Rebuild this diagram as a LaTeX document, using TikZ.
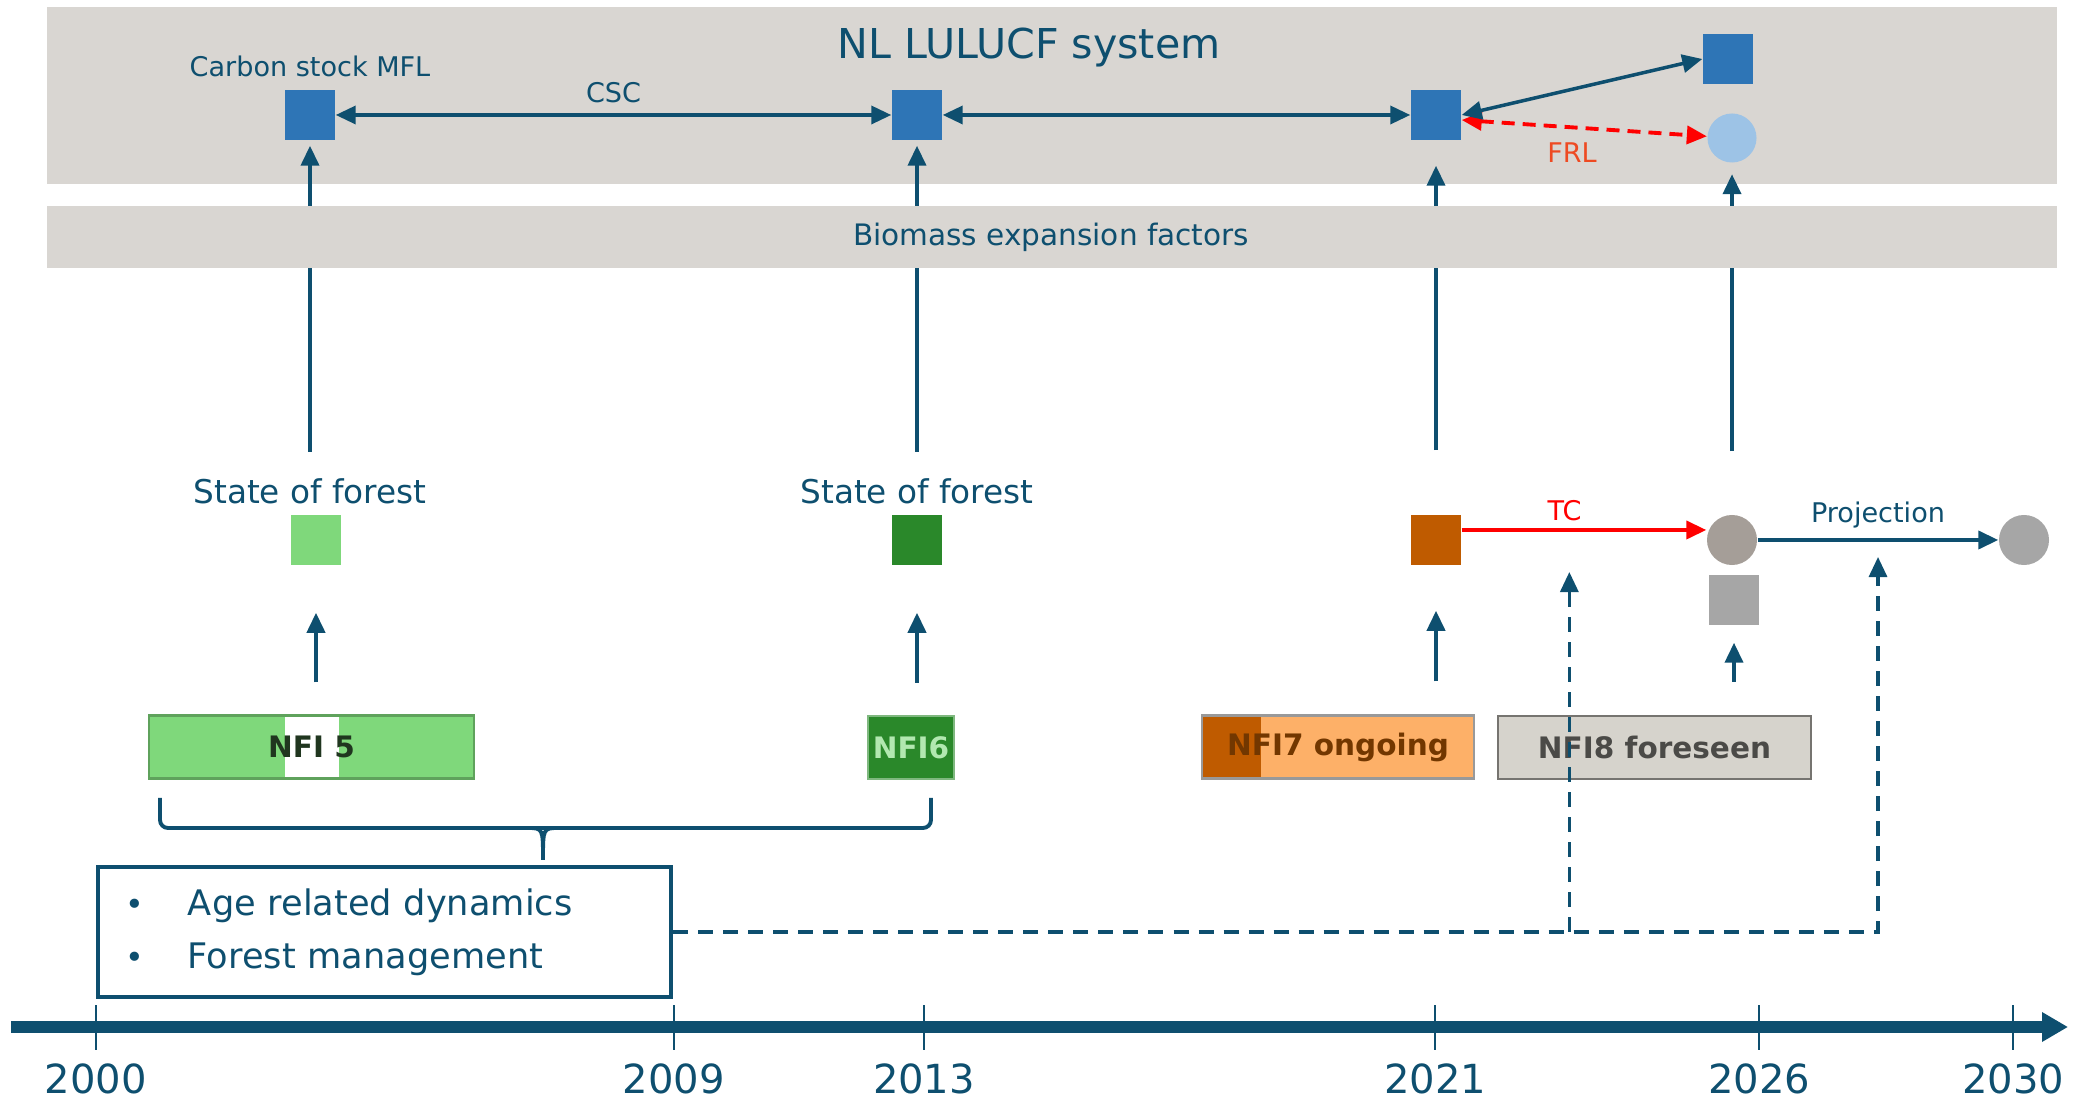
\documentclass[tikz,border=0pt]{standalone}
\usepackage{fontspec}
\setmainfont{DejaVu Sans}
\usetikzlibrary{arrows.meta,positioning,calc}
\definecolor{tl}{HTML}{0E4F6F}
\definecolor{bandgray}{HTML}{D9D6D2}
\definecolor{sqb}{HTML}{2E75B6}
\definecolor{lcb}{HTML}{9DC3E6}
\definecolor{lgr}{HTML}{7FD87B}
\definecolor{dgr}{HTML}{2A882A}
\definecolor{lor}{HTML}{FDB068}
\definecolor{dor}{HTML}{BF5B00}
\definecolor{wgr}{HTML}{A59E98}
\definecolor{mgr}{HTML}{A6A6A6}
\definecolor{nfg}{HTML}{D6D3CC}
\definecolor{rd}{HTML}{FF0000}
\definecolor{frlc}{HTML}{EE4A22}
\tikzset{
  >={Triangle[length=2mm,width=1.8mm]},
  every node/.style={text=tl},
  lbl/.style={inner sep=0pt, font=\fontsize{7.7}{9}\selectfont},
  sof/.style={inner sep=0pt, font=\fontsize{9.3}{11}\selectfont},
  csq/.style={rectangle, minimum size=5mm, inner sep=0pt, fill=sqb},
  stsq/.style={rectangle, minimum size=5mm, inner sep=0pt},
  blob/.style={circle, minimum size=4.9mm, inner sep=0pt},
  nfi/.style={rectangle, minimum height=6.3mm, inner sep=0pt, line width=0.6pt, font=\bfseries\fontsize{8.4}{10}\selectfont},
  inset/.style n args={3}{path picture={\fill[#1] ([xshift=#2]path picture bounding box.south west) rectangle ([xshift=#3]path picture bounding box.north west);}},
  flow/.style={->, draw=tl, line width=1.1pt},
  bflow/.style={<->, draw=tl, line width=1.0pt},
  rflow/.style={<->, draw=rd, line width=1.1pt, dash pattern=on 1.3mm off 0.8mm},
  tcflow/.style={->, draw=rd, line width=1.1pt},
  dflow/.style={->, draw=tl, line width=0.9pt, dash pattern=on 1.5mm off 1mm},
  brace/.style={draw=tl, line width=1.1pt},
  agebox/.style={draw=tl, line width=1.1pt, minimum width=5.73cm, minimum height=1.30cm, text width=5.17cm, inner xsep=0.28cm, align=left, font=\fontsize{10}{15.1}\selectfont},
  timeline/.style={-{Triangle[length=2.6mm,width=2.8mm]}, draw=tl, line width=3.4pt},
  yeartick/.style={draw=tl, line width=0.8pt},
  yearlbl/.style={inner sep=0pt, font=\fontsize{11.4}{13}\selectfont},
}

\begin{document}
\begin{tikzpicture}[x=0.01cm, y=-0.01cm]
\useasboundingbox (0,0) rectangle (2085,1101);

% ───────────── reporting system ─────────────
\fill[bandgray] (47,7) rectangle (2057,184);
\node[inner sep=0pt, font=\fontsize{11.7}{14}\selectfont] (title) at (1029,48) {NL LULUCF system};
\node[csq] (c00) at (310,115) {};
\node[csq] (c13) at (917,115) {};
\node[csq] (c21) at (1436,115) {};
\node[csq] (c26) at (1728,59) {};
\node[blob, fill=lcb] (frl26) at (1732,138) {};
\node[lbl, above=0.12cm of c00] (cslbl) {Carbon stock MFL};

\draw[bflow] (c00) -- node[lbl, above=0.1cm] (csc) {CSC} (c13);
\draw[bflow] (c13) -- (c21);
\draw[rflow] ([yshift=-0.05cm]c21.east) -- node[lbl, pos=0.45, below=0.13cm, text=frlc] (frl) {FRL} (frl26);
\draw[bflow] (c21.east) -- (c26.west);

% ───────────── state of forest ─────────────
\node[sof] (sof00) at (310,491) {State of forest};
\node[sof] (sof13) at (917,491) {State of forest};
\node[stsq, fill=lgr] (st00) at (316,540) {};
\node[stsq, fill=dgr] (st13) at (917,540) {};
\node[stsq, fill=dor] (or21) at (1436,540) {};
\node[blob, minimum size=5mm, fill=wgr] (gc26) at (1732,540) {};
\node[stsq, fill=mgr] (gs26) at (1734,600) {};
\node[blob, minimum size=5mm, fill=mgr] (gc30) at (2024,540) {};

\draw[tcflow] ([yshift=0.1cm]or21.east) -- node[lbl, pos=0.42, above=0.07cm, text=rd] (tc) {TC} ([yshift=0.1cm]gc26.west);
\draw[flow] (gc26) -- node[lbl, above=0.1cm] (proj) {Projection} (gc30);

% states feed the carbon stocks
\draw[flow, shorten <=0.26cm, shorten >=0.05cm] (sof00) -- (c00);
\draw[flow, shorten <=0.26cm, shorten >=0.05cm] (sof13) -- (c13);
\draw[flow, shorten <=0.64cm, shorten >=0.25cm] (or21) -- (c21);
\draw[flow, shorten <=0.63cm, shorten >=0.11cm] (gc26) -- (frl26);

% ───────────── inventories ─────────────
\node[nfi, minimum width=3.25cm, fill=lgr, draw=lgr!75!black, text=lgr!25!black, inset={white}{1.36cm}{1.90cm}] (nfi5) at (311.5,747) {NFI 5};
\node[nfi, minimum width=0.86cm, fill=dgr, draw=dgr!60!white, text=lgr!60!white] (nfi6) at (911,747.5) {NFI6};
\node[nfi, minimum width=2.72cm, fill=lor, draw=gray!80, text=dor!60!black, inset={dor}{0cm}{0.59cm}] (nfi7) at (1338,747) {NFI7 ongoing};
\node[nfi, minimum width=3.13cm, fill=nfg, draw=nfg!55!black, text=nfg!35!black] (nfi8) at (1654.5,747.5) {NFI8 foreseen};

\draw[flow, shorten <=0.32cm, shorten >=0.47cm] (nfi5.north -| st00) -- (st00);
\draw[flow, shorten <=0.32cm, shorten >=0.47cm] (nfi6.north -| st13) -- (st13);
\draw[flow, shorten <=0.33cm, shorten >=0.45cm] (nfi7.north -| or21) -- (or21);
\draw[flow, shorten <=0.33cm, shorten >=0.17cm] (nfi8.north -| gs26) -- (gs26);

% biomass band covers the long arrows
\fill[bandgray] (47,206) rectangle (2057,268);
\node[inner sep=0pt, font=\fontsize{8.4}{10}\selectfont] (bef) at (1051,237) {Biomass expansion factors};

% ───────────── dynamics ─────────────
\draw[brace, rounded corners=0.08cm] (160,798) -- (160,828) -- (931,828) -- (931,798);
\draw[brace] (527,828) .. controls (543,828) .. (543,860) .. controls (543,828) .. (559,828);
\node[agebox, anchor=north west] (agebox) at (96,865)
  {\makebox[0.62cm][l]{\fontsize{9}{9}\selectfont\textbullet}Age related dynamics\\
   \makebox[0.62cm][l]{\fontsize{9}{9}\selectfont\textbullet}Forest management};

\coordinate (tcin) at ($(or21.east)!0.44!(gc26.west)$);
\coordinate (prin) at ($(gc26.east)!0.5!(gc30.west)$);
\draw[dflow, shorten >=0.17cm] (agebox.east) -| (prin);
\draw[dflow, shorten >=0.32cm] (agebox.east -| tcin) -- (tcin);

% ───────────── time axis ─────────────
\coordinate (t0) at (11,1027);
\coordinate (t1) at (2068,1027);
\draw[timeline] (t0) -- (t1);
\foreach \x/\yr in {96/2000, 674/2009, 924/2013, 1435/2021, 1759/2026, 2013/2030} {
  \draw[yeartick] (\x,1005) -- (\x,1050);
  \node[yearlbl] (y\yr) at (\x,1079) {\yr};
}

\end{tikzpicture}
\end{document}
